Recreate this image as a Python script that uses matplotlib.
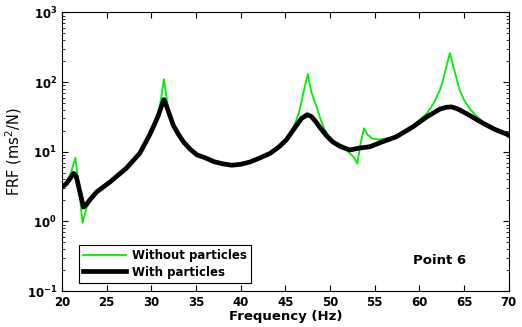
import numpy as np
import matplotlib.pyplot as plt

# values (Hz, FRF)
freq_wo = [20.0, 20.5, 21.0, 21.5, 21.9, 22.3, 22.7, 23.2, 23.9, 25.4, 27.2, 28.7, 29.8,
           30.3, 30.8, 31.1, 31.4, 31.7, 32.0, 32.45, 33.0, 33.6, 34.3, 35.1, 36.0, 37.0,
           38.0, 39.0, 40.0, 41.0, 42.0, 43.3, 44.3, 45.1, 45.7, 46.2, 46.6, 47.0, 47.5,
           47.9, 48.5, 48.9, 49.3, 49.8, 50.3, 51.0, 51.5, 52.0, 52.6, 53.05, 53.4, 53.8,
           54.2, 54.7, 55.5, 57.0, 58.2, 59.3, 60.8, 61.6, 62.3, 62.65, 63.0, 63.4, 63.9,
           64.5, 65.0, 65.6, 66.3, 67.1, 68.4, 69.7, 70.0]
frf_wo = [3.1, 3.6, 5.0, 8.2, 3.0, 0.95, 1.5, 2.1, 2.66, 3.7, 5.8, 9.5, 17.4,
          24.0, 36.0, 60.0, 110.0, 60.0, 34.0, 24.0, 18.0, 13.8, 11.0, 9.0, 8.2, 7.2,
          6.7, 6.4, 6.6, 7.1, 8.0, 9.5, 11.8, 15.0, 20.0, 28.0, 40.0, 69.0, 130.0,
          72.0, 44.0, 30.0, 22.0, 17.0, 14.0, 12.8, 12.2, 10.0, 8.5, 6.8, 13.0, 21.7,
          17.5, 15.5, 15.0, 16.0, 19.0, 24.0, 35.0, 50.0, 77.0, 107.0, 166.0, 260.0, 148.0,
          77.0, 55.0, 42.0, 33.0, 27.0, 21.0, 18.0, 17.2]

freq_w = [20.0, 20.5, 21.0, 21.3, 21.6, 21.9, 22.4, 22.8, 23.2, 23.9, 25.4, 27.2, 28.7,
          29.8, 30.3, 30.8, 31.1, 31.4, 31.7, 32.0, 32.45, 33.0, 33.6, 34.3, 35.1, 36.0,
          37.0, 38.0, 39.0, 40.0, 41.0, 42.0, 43.3, 44.3, 45.1, 46.25, 46.8, 47.45, 47.9,
          48.4, 48.9, 49.6, 50.3, 51.2, 52.2, 53.3, 54.45, 55.6, 57.4, 59.3, 60.8,
          62.3, 63.0, 63.6, 64.3, 65.3, 67.1, 68.4, 69.7, 70.0]
frf_w = [3.1, 3.5, 4.3, 4.9, 4.4, 3.0, 1.6, 1.8, 2.1, 2.66, 3.7, 5.8, 9.5,
         17.4, 24.0, 33.6, 44.0, 56.0, 45.0, 35.0, 24.0, 18.0, 13.8, 11.0, 9.0, 8.2,
         7.2, 6.7, 6.4, 6.6, 7.1, 8.0, 9.5, 11.8, 14.8, 24.0, 30.0, 34.0, 32.0,
         27.0, 22.0, 17.0, 13.8, 11.8, 10.6, 11.3, 11.8, 13.5, 16.4, 22.9, 31.6,
         41.0, 43.5, 44.0, 41.0, 35.0, 25.7, 21.0, 18.0, 17.2]

fig = plt.figure(figsize=(5.22, 3.27), dpi=100)
ax = fig.add_axes([0.1188, 0.110, 0.856, 0.852])

ax.semilogy(freq_wo, frf_wo, color='#00ee00', lw=1.3, label='Without particles')
ax.semilogy(freq_w, frf_w, color='black', lw=3.4, label='With particles')

ax.set_xlim(20, 70)
ax.set_ylim(0.1, 1000)
ax.set_xticks(np.arange(20, 71, 5))
ax.tick_params(which='both', direction='in', top=True, right=True)
ax.tick_params(which='major', length=4)
ax.tick_params(which='minor', length=2)
for lab in ax.get_xticklabels() + ax.get_yticklabels():
    lab.set_fontweight('bold')
    lab.set_fontsize(8.5)

ax.set_xlabel('Frequency (Hz)', fontsize=9.5, fontweight='bold', labelpad=1)
ax.set_ylabel('FRF (ms$^2$/N)', fontsize=10.5, labelpad=2)

ax.text(0.845, 0.109, 'Point 6', transform=ax.transAxes, ha='center', va='center',
        fontsize=9.5, fontweight='bold')

leg = ax.legend(loc='lower left', bbox_to_anchor=(0.038, 0.03), fancybox=False,
                edgecolor='black', framealpha=1, prop={'weight': 'bold', 'size': 8.5},
                handlelength=3.6, borderpad=0.35, labelspacing=0.3, handletextpad=0.5,
                borderaxespad=0)
leg.get_frame().set_linewidth(0.8)

fig.savefig('out.png', dpi=100)
